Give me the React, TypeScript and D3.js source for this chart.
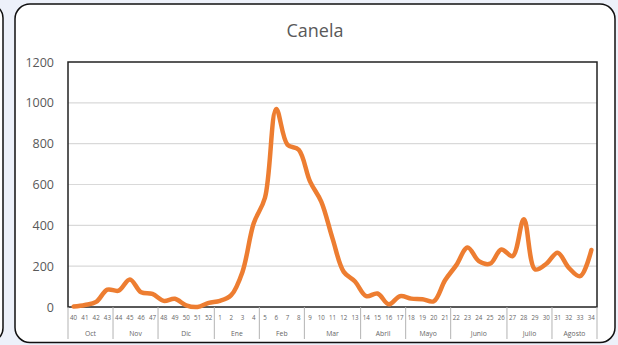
import React, { useEffect, useRef } from "react";
import * as d3 from "d3";

const title = "Canela";
const weeks = [
  "40", "41", "42", "43", "44", "45", "46", "47", "48", "49", "50", "51", "52",
  "1", "2", "3", "4", "5", "6", "7", "8", "9", "10", "11", "12", "13",
  "14", "15", "16", "17", "18", "19", "20", "21", "22", "23", "24", "25", "26",
  "27", "28", "29", "30", "31", "32", "33", "34",
];
const values = [
  2, 10, 25, 85, 80, 135, 72, 64, 30, 40, 8, 0, 20,
  30, 58, 172, 410, 535, 970, 795, 770, 615, 516, 336, 172, 125,
  53, 66, 13, 53, 41, 38, 28, 131, 205, 292, 225, 212, 282,
  249, 430, 184, 212, 266, 192, 151, 279,
];
const months = ["Oct", "Nov", "Dic", "Ene", "Feb", "Mar", "Abril", "Mayo", "Junio", "Julio", "Agosto"];
const monthSizes = [4, 4, 5, 4, 4, 5, 4, 4, 5, 4, 4];
const yTicks = [0, 200, 400, 600, 800, 1000, 1200];

const W = 618;
const H = 345;
const M = { left: 68, right: 597, top: 62, bottom: 307 };

export default function App() {
  const ref = useRef<SVGSVGElement>(null);

  useEffect(() => {
    const svg = d3.select(ref.current);
    svg.selectAll("*").remove();

    const font = "'Open Sans', 'Noto Sans', sans-serif";
    const txt = "#595959";

    // background
    svg.append("rect").attr("width", W).attr("height", H).attr("fill", "#edf1fa");
    // partial left card
    svg.append("rect").attr("x", -40).attr("y", 4).attr("width", 43).attr("height", 338)
      .attr("rx", 14).attr("fill", "#fff").attr("stroke", "#111").attr("stroke-width", 1.5);
    // main card
    svg.append("rect").attr("x", 15).attr("y", 4).attr("width", 600).attr("height", 338.5)
      .attr("rx", 15).attr("fill", "#fff").attr("stroke", "#111").attr("stroke-width", 1.5);

    svg.append("text").attr("x", 315).attr("y", 37).attr("text-anchor", "middle")
      .attr("font-family", font).attr("font-size", 18).attr("fill", txt).text(title);

    const x = d3.scaleBand<string>().domain(weeks.map((w, i) => i + "")).range([M.left, M.right]).padding(0);
    const y = d3.scaleLinear().domain([0, 1200]).range([M.bottom, M.top]);

    // gridlines
    svg.append("g").selectAll("line").data(yTicks.filter((t) => t > 0 && t < 1200)).join("line")
      .attr("x1", M.left).attr("x2", M.right).attr("y1", (d) => y(d)).attr("y2", (d) => y(d))
      .attr("stroke", "#d9d9d9").attr("stroke-width", 1.2);

    // y labels
    svg.append("g").selectAll("text").data(yTicks).join("text")
      .attr("x", 54).attr("y", (d) => y(d) + 4.5).attr("text-anchor", "end")
      .attr("font-family", font).attr("font-size", 12.5).attr("fill", txt).text((d) => d);

    // plot border
    svg.append("rect").attr("x", M.left).attr("y", M.top).attr("width", M.right - M.left)
      .attr("height", M.bottom - M.top).attr("fill", "none").attr("stroke", "#222").attr("stroke-width", 1.5);

    // week labels
    svg.append("g").selectAll("text").data(weeks).join("text")
      .attr("x", (d, i) => (x(i + "") as number) + x.bandwidth() / 2)
      .attr("y", 320).attr("text-anchor", "middle")
      .attr("font-family", font).attr("font-size", 6.2).attr("fill", "#666").text((d) => d);

    // month groups
    let start = 0;
    const bounds: number[] = [0];
    monthSizes.forEach((s) => { start += s; bounds.push(start); });
    const bx = (i: number) => M.left + i * x.step();
    svg.append("g").selectAll("line").data(bounds).join("line")
      .attr("x1", (d) => bx(d)).attr("x2", (d) => bx(d)).attr("y1", M.bottom).attr("y2", 339)
      .attr("stroke", "#b3b3b3").attr("stroke-width", 1);
    svg.append("g").selectAll("text").data(months).join("text")
      .attr("x", (d, i) => (bx(bounds[i]) + bx(bounds[i + 1])) / 2)
      .attr("y", 336).attr("text-anchor", "middle")
      .attr("font-family", font).attr("font-size", 6.8).attr("fill", "#666").text((d) => d);

    // line
    const line = d3.line<number>()
      .x((d, i) => (x(i + "") as number) + x.bandwidth() / 2)
      .y((d) => y(d))
      .curve(d3.curveCatmullRom.alpha(0.5));
    svg.append("path").datum(values).attr("d", line).attr("fill", "none")
      .attr("stroke", "#ED7D31").attr("stroke-width", 4.5).attr("stroke-linejoin", "round")
      .attr("stroke-linecap", "round");
  }, []);

  return (
    <svg ref={ref} width={W} height={H}
      style={{ position: "absolute", left: 0, top: 0, display: "block" }} />
  );
}
